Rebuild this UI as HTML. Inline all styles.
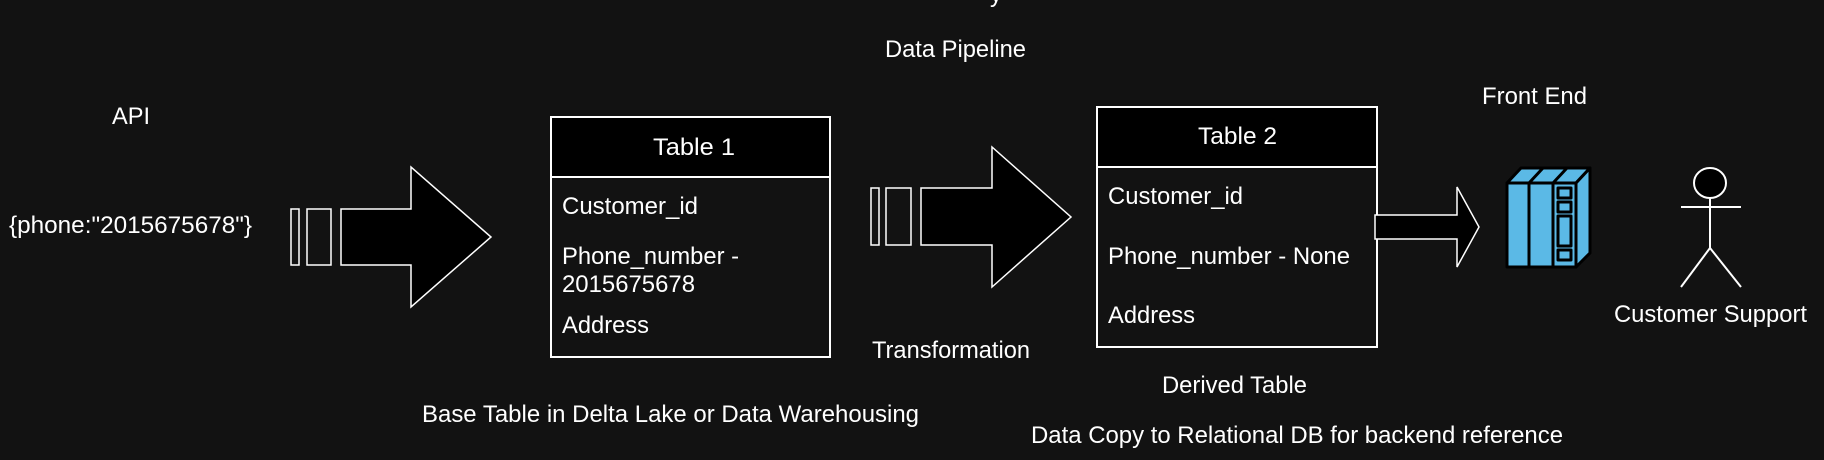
<!DOCTYPE html>
<html><head><meta charset="utf-8"><style>
html,body{margin:0;padding:0;background:#121212;}
svg{display:block;}
text{font-family:"Liberation Sans",Arial,sans-serif;font-size:24px;fill:#fff;}
</style></head><body>
<svg width="1824" height="460" viewBox="0 0 1824 460" xmlns="http://www.w3.org/2000/svg">
<rect width="1824" height="460" fill="#121212"/>
<text x="990" y="2" font-size="24">y</text>
<text x="885" y="57" textLength="141" lengthAdjust="spacingAndGlyphs">Data Pipeline</text>
<text x="112" y="124" textLength="38" lengthAdjust="spacingAndGlyphs">API</text>
<text x="9" y="233" textLength="243" lengthAdjust="spacingAndGlyphs">{phone:"2015675678"}</text>

<!-- arrow 1 -->
<rect x="291" y="209" width="8" height="56" fill="none" stroke="#fff" stroke-width="1.5"/>
<rect x="307" y="209" width="24" height="56" fill="none" stroke="#fff" stroke-width="1.5"/>
<polygon points="341,209 411,209 411,167 491,237 411,307 411,265 341,265" fill="#000" stroke="#fff" stroke-width="1.5"/>

<!-- table 1 -->
<rect x="551" y="117" width="279" height="240" fill="#121212" stroke="#fff" stroke-width="2"/>
<rect x="551" y="117" width="279" height="60" fill="#000" stroke="#fff" stroke-width="2"/>
<text x="653" y="155" textLength="82" lengthAdjust="spacingAndGlyphs">Table 1</text>
<text x="562" y="214" textLength="136" lengthAdjust="spacingAndGlyphs">Customer_id</text>
<text x="562" y="264" textLength="177" lengthAdjust="spacingAndGlyphs">Phone_number -</text>
<text x="562" y="292" textLength="133" lengthAdjust="spacingAndGlyphs">2015675678</text>
<text x="562" y="333" textLength="87" lengthAdjust="spacingAndGlyphs">Address</text>

<text x="872" y="358" textLength="158" lengthAdjust="spacingAndGlyphs">Transformation</text>
<text x="422" y="422" textLength="497" lengthAdjust="spacingAndGlyphs">Base Table in Delta Lake or Data Warehousing</text>

<!-- arrow 2 -->
<rect x="871" y="188" width="8" height="57" fill="none" stroke="#fff" stroke-width="1.5"/>
<rect x="886" y="188" width="25" height="57" fill="none" stroke="#fff" stroke-width="1.5"/>
<polygon points="921,188 992,188 992,147 1071,217 992,287 992,245 921,245" fill="#000" stroke="#fff" stroke-width="1.5"/>

<!-- table 2 -->
<rect x="1097" y="107" width="280" height="240" fill="#121212" stroke="#fff" stroke-width="2"/>
<rect x="1097" y="107" width="280" height="60" fill="#000" stroke="#fff" stroke-width="2"/>
<text x="1198" y="144" textLength="79" lengthAdjust="spacingAndGlyphs">Table 2</text>
<text x="1108" y="204" textLength="135" lengthAdjust="spacingAndGlyphs">Customer_id</text>
<text x="1108" y="264" textLength="242" lengthAdjust="spacingAndGlyphs">Phone_number - None</text>
<text x="1108" y="323" textLength="87" lengthAdjust="spacingAndGlyphs">Address</text>
<text x="1162" y="393" textLength="145" lengthAdjust="spacingAndGlyphs">Derived Table</text>
<text x="1031" y="443" textLength="532" lengthAdjust="spacingAndGlyphs">Data Copy to Relational DB for backend reference</text>

<!-- arrow 3 -->
<polygon points="1375,215 1457,215 1457,187 1479,227 1457,267 1457,239 1375,239" fill="#000" stroke="#fff" stroke-width="1.5"/>

<text x="1482" y="104" textLength="105" lengthAdjust="spacingAndGlyphs">Front End</text>

<!-- server icon -->
<g stroke="#000" stroke-width="3" stroke-linejoin="round" fill="#5bb9e6">
<polygon points="1507,183 1521,168 1590,168 1576,183"/>
<polygon points="1576,183 1590,168 1590,253 1576,267"/>
<rect x="1507" y="183" width="22" height="84"/>
<rect x="1529" y="183" width="24" height="84"/>
<rect x="1553" y="183" width="23" height="84"/>
<line x1="1529" y1="183" x2="1543" y2="168"/>
<line x1="1553" y1="183" x2="1567" y2="168"/>
<rect x="1558" y="188" width="13" height="10" fill="#5bb9e6"/>
<rect x="1558" y="202" width="13" height="10" fill="#5bb9e6"/>
<rect x="1558" y="216" width="13" height="30" fill="#5bb9e6"/>
<rect x="1558" y="250" width="13" height="10" fill="#5bb9e6"/>
</g>

<!-- actor -->
<g stroke="#fff" stroke-width="2" fill="none">
<ellipse cx="1710" cy="183" rx="16" ry="15" fill="#000"/>
<line x1="1710" y1="198" x2="1710" y2="248"/>
<line x1="1681" y1="207" x2="1741" y2="207"/>
<line x1="1710" y1="248" x2="1681" y2="287"/>
<line x1="1710" y1="248" x2="1741" y2="287"/>
</g>
<text x="1614" y="322" textLength="193" lengthAdjust="spacingAndGlyphs">Customer Support</text>
</svg>
</body></html>
